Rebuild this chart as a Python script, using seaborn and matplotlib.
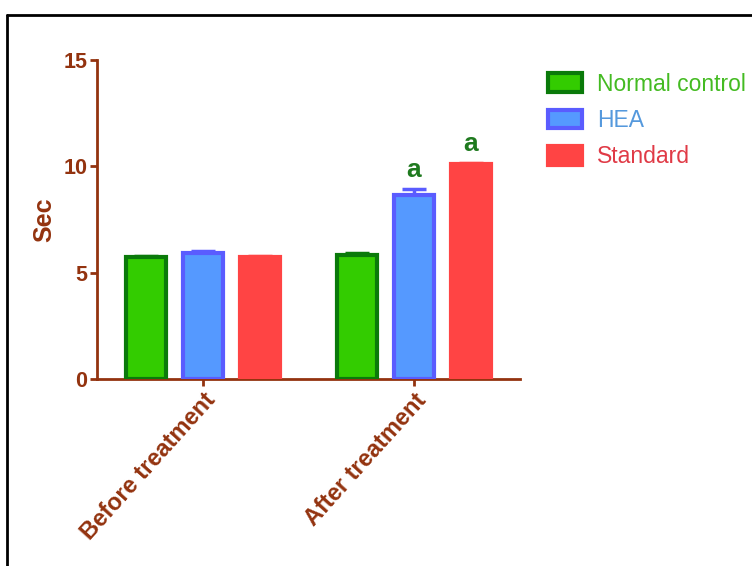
import matplotlib
matplotlib.use("Agg")
import matplotlib.pyplot as plt
from matplotlib.patches import Patch
from matplotlib.lines import Line2D
import seaborn as sns
import pandas as pd

# Data
periods = ["Before treatment", "After treatment"]
groups = ["Normal control", "HEA", "Standard"]
normal_control = [5.72, 5.85]
hea = [5.92, 8.65]
standard = [5.75, 10.1]
sem_normal = [0.06, 0.07]
sem_hea = [0.10, 0.30]
sem_standard = [0.04, 0.08]
sig_labels = {("After treatment", "HEA"): "a", ("After treatment", "Standard"): "a"}

brown = "#93330f"
fills = ["#33cc00", "#5599ff", "#ff4444"]
edges = ["#0a7a0a", "#5a5cff", "#ff4444"]
text_cols = ["#44bb22", "#5599dd", "#e03a46"]

rows = []
for p_i, p in enumerate(periods):
    for g, vals, errs in zip(groups, [normal_control, hea, standard],
                             [sem_normal, sem_hea, sem_standard]):
        rows.append({"period": p, "group": g, "value": vals[p_i], "sem": errs[p_i]})
df = pd.DataFrame(rows)

sns.set_theme(style="white")
plt.rcParams["font.family"] = ["Liberation Sans", "DejaVu Sans"]

fig = plt.figure(figsize=(7.52, 5.66), dpi=100)
ax = fig.add_axes([0.129, 0.330, 0.562, 0.564])

sns.barplot(data=df, x="period", y="value", hue="group", order=periods,
            hue_order=groups, palette=fills, saturation=1, width=0.81, gap=0.3,
            errorbar=None, legend=False, ax=ax, zorder=3)

# Outline colours per group; patches come grouped by hue
bars = [b for b in ax.patches]
for h_i in range(len(groups)):
    for p_i in range(len(periods)):
        b = bars[h_i * len(periods) + p_i]
        b.set_edgecolor(edges[h_i])
        b.set_linewidth(3)
        row = df[(df.period == periods[p_i]) & (df.group == groups[h_i])].iloc[0]
        xc = b.get_x() + b.get_width() / 2
        top = b.get_height()
        ax.errorbar([xc], [top], yerr=[[0], [row["sem"]]], fmt="none",
                    ecolor=edges[h_i], elinewidth=2.5, capsize=8.5, capthick=2.5,
                    zorder=2)
        lab = sig_labels.get((periods[p_i], groups[h_i]))
        if lab:
            ax.text(xc, top + row["sem"] + 0.3, lab, ha="center", va="bottom",
                    color="#1f7a1f", fontsize=19, fontweight="bold")

ax.set_xlim(-0.5, 1.5)
ax.set_ylim(0, 15)
ax.set_yticks([0, 5, 10, 15])
ax.set_xlabel("")
ax.set_ylabel("Sec", color=brown, fontsize=18, fontweight="bold", labelpad=5)

for s in ["top", "right"]:
    ax.spines[s].set_visible(False)
for s in ["left", "bottom"]:
    ax.spines[s].set_color(brown)
    ax.spines[s].set_linewidth(2)
ax.tick_params(axis="both", colors=brown, width=2, length=5, direction="out",
               left=True, bottom=True, pad=2)
ax.tick_params(axis="y", labelsize=15.5)
ax.tick_params(axis="x", labelsize=17)
for t in ax.get_yticklabels():
    t.set_fontweight("bold")
for t in ax.get_xticklabels():
    t.set_fontweight("bold")
    t.set_rotation(48)
    t.set_ha("right")
    t.set_rotation_mode("anchor")

handles = [Patch(facecolor=f, edgecolor=e, linewidth=3) for f, e in zip(fills, edges)]
leg = fig.legend(handles, groups, loc="upper left", bbox_to_anchor=(0.7165, 0.888),
                 frameon=False, fontsize=16.5, handlelength=1.48, handleheight=0.87,
                 handletextpad=0.65, labelspacing=0.58, borderaxespad=0)
for t, c in zip(leg.get_texts(), text_cols):
    t.set_color(c)

# Frame lines around the figure
fig.add_artist(Line2D([0.0093, 1.0], [0.9735, 0.9735], transform=fig.transFigure,
                      color="black", linewidth=2))
fig.add_artist(Line2D([0.0093, 0.0093], [0.0, 0.9735], transform=fig.transFigure,
                      color="black", linewidth=2))

fig.savefig("out.png", dpi=100)
